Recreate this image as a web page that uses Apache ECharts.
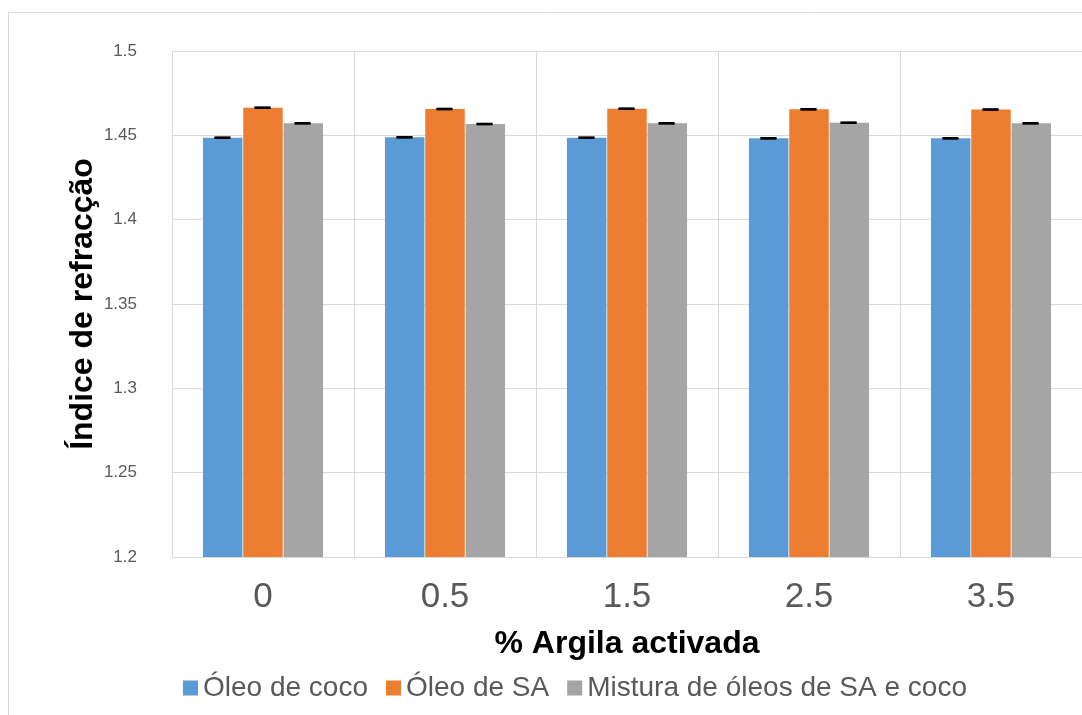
<!DOCTYPE html>
<html>
<head>
<meta charset="utf-8">
<script src="https://cdn.jsdelivr.net/npm/echarts@6/dist/echarts.min.js"></script>
<style>html,body{margin:0;padding:0;background:#fff;}#c{width:1082px;height:715px;}</style>
</head>
<body>
<div id="c"></div>
<script>
var categories = ['0', '0.5', '1.5', '2.5', '3.5'];
var seriesNames = ['Óleo de coco', 'Óleo de SA', 'Mistura de óleos de SA e coco'];
var coco = [1.4486, 1.4488, 1.4486, 1.4482, 1.4482];
var sa = [1.4664, 1.4656, 1.4658, 1.4654, 1.4653];
var mistura = [1.4571, 1.4567, 1.4571, 1.4575, 1.4571];
var errCoco = [0.0002, 0.0002, 0.0002, 0.0002, 0.0002];
var errSa = [0.0002, 0.0002, 0.0002, 0.0002, 0.0002];
var errMistura = [0.0002, 0.0002, 0.0002, 0.0002, 0.0002];
var yTicks = ['1.2', '1.25', '1.3', '1.35', '1.4', '1.45', '1.5'];

var colors = ['#5b9bd5', '#ed7d31', '#a5a5a5'];
var values = [coco, sa, mistura];
var errs = [errCoco, errSa, errMistura];
var catGap = 0.34;

var chart = echarts.init(document.getElementById('c'));
var series = [];
values.forEach(function (v, i) {
  series.push({
    name: seriesNames[i],
    type: 'bar',
    data: v,
    barGap: '2%',
    barCategoryGap: '34%',
    itemStyle: { color: colors[i] },
    z: 2
  });
});
values.forEach(function (v, i) {
  series.push({
    type: 'custom',
    name: 'err' + i,
    data: v.map(function (val, k) { return [k, val - errs[i][k], val + errs[i][k]]; }),
    encode: { x: 0, y: [1, 2] },
    z: 5,
    silent: true,
    renderItem: function (params, api) {
      var k = api.value(0);
      var lo = api.coord([k, api.value(1)]);
      var hi = api.coord([k, api.value(2)]);
      var band = api.size([1, 0])[0];
      var bw = band * (1 - catGap) / 3;
      var x = lo[0] + (i - 1) * bw - 0.5;
      var half = 8;
      return {
        type: 'group',
        children: [
          { type: 'line', shape: { x1: x, y1: hi[1], x2: x, y2: lo[1] }, style: { stroke: '#000', lineWidth: 1 } },
          { type: 'line', shape: { x1: x - half, y1: hi[1], x2: x + half, y2: hi[1] }, style: { stroke: '#000', lineWidth: 2 } },
          { type: 'line', shape: { x1: x - half, y1: lo[1], x2: x + half, y2: lo[1] }, style: { stroke: '#000', lineWidth: 2 } }
        ]
      };
    }
  });
});

chart.setOption({
  animation: false,
  textStyle: { fontFamily: 'Liberation Sans, Arial, sans-serif' },
  graphic: [{
    type: 'rect',
    shape: { x: 8.5, y: 12.5, width: 1100, height: 720 },
    style: { fill: 'none', stroke: '#d9d9d9', lineWidth: 1 },
    silent: true, z: -1
  }],
  grid: { left: 172, top: 51, right: -2, bottom: 158 },
  legend: {
    data: seriesNames,
    bottom: 8,
    left: 178,
    icon: 'rect',
    itemWidth: 15,
    itemHeight: 15,
    itemGap: 18,
    textStyle: { fontSize: 28, color: '#595959', padding: [0, 0, 0, 0] }
  },
  xAxis: {
    type: 'category',
    data: categories,
    name: '% Argila activada',
    nameLocation: 'middle',
    nameGap: 71,
    nameTextStyle: { fontSize: 32, fontWeight: 'bold', color: '#000' },
    axisLine: { lineStyle: { color: '#d9d9d9', width: 1 } },
    axisTick: { show: false },
    axisLabel: { fontSize: 35, color: '#595959', margin: 23 },
    splitLine: { show: true, lineStyle: { color: '#d9d9d9', width: 1 } }
  },
  yAxis: {
    type: 'value',
    min: 1.2,
    max: 1.5,
    interval: 0.05,
    name: 'Índice de refracção',
    nameLocation: 'middle',
    nameGap: 73,
    nameMoveOverlap: false,
    nameRotate: 90,
    nameTextStyle: { fontSize: 32, fontWeight: 'bold', color: '#000' },
    axisLine: { show: false },
    axisTick: { show: false },
    axisLabel: {
      fontSize: 17, color: '#595959', margin: 35,
      formatter: function (v) {
        var idx = Math.round((v - 1.2) / 0.05);
        return yTicks[idx];
      }
    },
    splitLine: { lineStyle: { color: '#d9d9d9', width: 1 } }
  },
  series: series
});
</script>
</body>
</html>
